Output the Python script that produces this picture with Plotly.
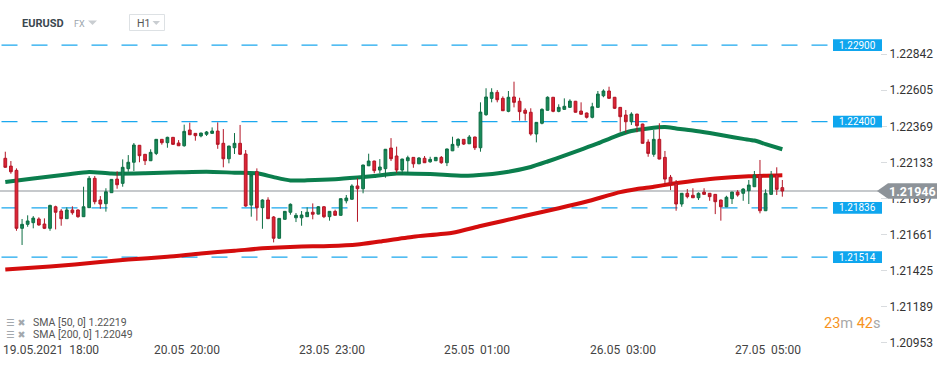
import plotly.graph_objects as go

# ---------------- data ----------------
candle_idx = list(range(1, 141))

open_ = [
    1.22160, 1.22109, 1.22081, 1.21702, 1.21728, 1.21739, 1.21763, 1.21730, 1.21702, 1.21843,
    1.21815, 1.21765, 1.21822, 1.21822, 1.21778, 1.21837, 1.22029, 1.21887, 1.21863, 1.21935,
    1.22024, 1.21996, 1.22092, 1.22134, 1.22245, 1.22186, 1.22144, 1.22192, 1.22284, 1.22262,
    1.22297, 1.22260, 1.22242, 1.22345, 1.22323, 1.22306, 1.22317, 1.22323, 1.22338, 1.22258,
    1.22157, 1.22229, 1.22258, 1.22188, 1.21854, 1.22072, 1.21837, 1.21887, 1.21776, 1.21637,
    1.21761, 1.21807, 1.21771, 1.21771, 1.21778, 1.21807, 1.21795, 1.21843, 1.21778, 1.21813,
    1.21787, 1.21882, 1.21892, 1.21979, 1.21961, 1.22111, 1.22142, 1.22083, 1.22092, 1.22227,
    1.22175, 1.22083, 1.22144, 1.22166, 1.22124, 1.22160, 1.22137, 1.22144, 1.22166, 1.22131,
    1.22209, 1.22245, 1.22284, 1.22255, 1.22299, 1.22229, 1.22445, 1.22552, 1.22591, 1.22552,
    1.22467, 1.22561, 1.22533, 1.22474, 1.22461, 1.22319, 1.22389, 1.22474, 1.22559, 1.22467,
    1.22480, 1.22493, 1.22533, 1.22469, 1.22456, 1.22428, 1.22493, 1.22569, 1.22600, 1.22559,
    1.22493, 1.22443, 1.22399, 1.22449, 1.22384, 1.22266, 1.22186, 1.22284, 1.22166, 1.22036,
    1.21996, 1.21861, 1.21931, 1.21918, 1.21902, 1.21939, 1.21931, 1.21924, 1.21887, 1.21843,
    1.21896, 1.21939, 1.21931, 1.21948, 1.21974, 1.22051, 1.21817, 1.21924, 1.22051, 1.21968,
]
high = [
    1.22203, 1.22142, 1.22094, 1.21763, 1.21787, 1.21782, 1.21774, 1.21767, 1.21856, 1.21850,
    1.21828, 1.21839, 1.21846, 1.21826, 1.21974, 1.22044, 1.22044, 1.21913, 1.21964, 1.22024,
    1.22075, 1.22153, 1.22181, 1.22260, 1.22247, 1.22188, 1.22219, 1.22286, 1.22286, 1.22301,
    1.22299, 1.22279, 1.22380, 1.22393, 1.22325, 1.22327, 1.22338, 1.22362, 1.22395, 1.22351,
    1.22242, 1.22325, 1.22378, 1.22214, 1.22053, 1.22094, 1.21892, 1.21905, 1.21782, 1.21769,
    1.21815, 1.21865, 1.21802, 1.21815, 1.21839, 1.21865, 1.21848, 1.21848, 1.21815, 1.21824,
    1.21898, 1.21920, 1.21990, 1.22029, 1.22118, 1.22190, 1.22144, 1.22155, 1.22221, 1.22292,
    1.22236, 1.22157, 1.22177, 1.22168, 1.22168, 1.22175, 1.22170, 1.22168, 1.22175, 1.22223,
    1.22301, 1.22291, 1.22286, 1.22312, 1.22301, 1.22526, 1.22618, 1.22618, 1.22606, 1.22565,
    1.22600, 1.22661, 1.22556, 1.22487, 1.22487, 1.22397, 1.22487, 1.22565, 1.22561, 1.22513,
    1.22552, 1.22546, 1.22535, 1.22526, 1.22459, 1.22523, 1.22600, 1.22611, 1.22628, 1.22561,
    1.22495, 1.22476, 1.22461, 1.22451, 1.22386, 1.22284, 1.22345, 1.22389, 1.22208, 1.22051,
    1.22018, 1.21933, 1.21959, 1.21964, 1.21937, 1.21964, 1.21933, 1.21926, 1.21889, 1.21915,
    1.21941, 1.21952, 1.21964, 1.22018, 1.22077, 1.22149, 1.21957, 1.22077, 1.22101, 1.22018,
]
low = [
    1.22098, 1.22059, 1.21686, 1.21593, 1.21712, 1.21702, 1.21719, 1.21697, 1.21686, 1.21695,
    1.21719, 1.21763, 1.21791, 1.21771, 1.21776, 1.21835, 1.21859, 1.21830, 1.21811, 1.21933,
    1.21961, 1.21974, 1.22072, 1.22077, 1.22134, 1.22116, 1.22142, 1.22181, 1.22249, 1.22229,
    1.22249, 1.22240, 1.22236, 1.22312, 1.22275, 1.22297, 1.22306, 1.22321, 1.22222, 1.22101,
    1.22127, 1.22188, 1.22184, 1.21843, 1.21778, 1.21752, 1.21699, 1.21763, 1.21610, 1.21635,
    1.21759, 1.21791, 1.21743, 1.21719, 1.21776, 1.21761, 1.21793, 1.21769, 1.21752, 1.21785,
    1.21785, 1.21865, 1.21890, 1.21745, 1.21931, 1.22109, 1.22062, 1.22062, 1.22033, 1.22142,
    1.22065, 1.22051, 1.22062, 1.22098, 1.22122, 1.22129, 1.22131, 1.22142, 1.22124, 1.22109,
    1.22207, 1.22229, 1.22247, 1.22253, 1.22214, 1.22203, 1.22438, 1.22526, 1.22526, 1.22469,
    1.22461, 1.22493, 1.22406, 1.22406, 1.22308, 1.22264, 1.22382, 1.22472, 1.22461, 1.22461,
    1.22478, 1.22491, 1.22459, 1.22446, 1.22420, 1.22421, 1.22491, 1.22559, 1.22550, 1.22482,
    1.22334, 1.22327, 1.22378, 1.22330, 1.22256, 1.22170, 1.22170, 1.22153, 1.21985, 1.21952,
    1.21817, 1.21843, 1.21898, 1.21900, 1.21887, 1.21922, 1.21882, 1.21795, 1.21752, 1.21841,
    1.21861, 1.21909, 1.21882, 1.21861, 1.21972, 1.21800, 1.21815, 1.21922, 1.21920, 1.21909,
]
close = [
    1.22101, 1.22072, 1.21702, 1.21728, 1.21750, 1.21769, 1.21724, 1.21702, 1.21852, 1.21807,
    1.21765, 1.21822, 1.21804, 1.21778, 1.21843, 1.22029, 1.21876, 1.21861, 1.21941, 1.22022,
    1.21987, 1.22101, 1.22134, 1.22247, 1.22177, 1.22144, 1.22199, 1.22284, 1.22262, 1.22297,
    1.22251, 1.22242, 1.22336, 1.22314, 1.22308, 1.22325, 1.22332, 1.22338, 1.22251, 1.22157,
    1.22240, 1.22258, 1.22186, 1.21848, 1.22051, 1.21837, 1.21887, 1.21765, 1.21637, 1.21767,
    1.21813, 1.21859, 1.21787, 1.21789, 1.21807, 1.21794, 1.21843, 1.21778, 1.21813, 1.21787,
    1.21896, 1.21900, 1.21979, 1.21961, 1.22116, 1.22142, 1.22079, 1.22103, 1.22219, 1.22157,
    1.22083, 1.22155, 1.22164, 1.22124, 1.22162, 1.22131, 1.22153, 1.22166, 1.22131, 1.22221,
    1.22251, 1.22284, 1.22253, 1.22299, 1.22229, 1.22462, 1.22561, 1.22591, 1.22543, 1.22471,
    1.22559, 1.22526, 1.22465, 1.22454, 1.22319, 1.22395, 1.22480, 1.22559, 1.22467, 1.22493,
    1.22500, 1.22534, 1.22461, 1.22448, 1.22428, 1.22497, 1.22580, 1.22600, 1.22552, 1.22487,
    1.22432, 1.22399, 1.22449, 1.22373, 1.22258, 1.22192, 1.22284, 1.22155, 1.22024, 1.21992,
    1.21861, 1.21931, 1.21909, 1.21902, 1.21931, 1.21924, 1.21909, 1.21876, 1.21843, 1.21905,
    1.21939, 1.21920, 1.21959, 1.21985, 1.22051, 1.21817, 1.21931, 1.22051, 1.21957, 1.21946,
]

sma50_idx = [1, 6, 12, 16, 20, 26, 32, 37, 42, 46, 49, 52, 55, 60, 64, 67, 71, 77, 83, 87,
             91, 95, 98, 101, 104, 107, 110, 113, 116, 119, 121, 124, 127, 130, 133, 135, 137, 140]
sma50 = [1.22005, 1.22028, 1.22054, 1.22071, 1.22060, 1.22062, 1.22068, 1.22072, 1.22066, 1.22062,
         1.22037, 1.22015, 1.22016, 1.22023, 1.22034, 1.22044, 1.22060, 1.22057, 1.22045, 1.22054,
         1.22072, 1.22103, 1.22139, 1.22178, 1.22217, 1.22257, 1.22302, 1.22338, 1.22355, 1.22364,
         1.22355, 1.22342, 1.22325, 1.22306, 1.22287, 1.22276, 1.22253, 1.22219]

sma200_idx = [1, 9, 18, 23, 30, 36, 42, 47, 53, 59, 64, 68, 74, 81, 86, 90, 94, 100, 105, 111,
              114, 117, 120, 123, 128, 134, 140]
sma200 = [1.21432, 1.21452, 1.21481, 1.21498, 1.21516, 1.21538, 1.21555, 1.21571, 1.21582, 1.21586,
          1.21596, 1.21616, 1.21647, 1.21673, 1.21717, 1.21750, 1.21784, 1.21833, 1.21877, 1.21939,
          1.21959, 1.21974, 1.21992, 1.22007, 1.22028, 1.22043, 1.22049]

levels = [1.22900, 1.22400, 1.21836, 1.21514]
last_price = 1.21946
y_ticks = [1.22842, 1.22605, 1.22369, 1.22133, 1.21897, 1.21661, 1.21425, 1.21189, 1.20953]
date_idx = [1, 27, 53, 79, 105, 131]
date_labels = ["19.05.2021  18:00", "20.05  20:00", "23.05  23:00",
               "25.05  01:00", "26.05  03:00", "27.05  05:00"]
legend_lines = ["SMA [50, 0] 1.22219", "SMA [200, 0] 1.22049"]

# ---------------- layout helpers ----------------
W, H = 950, 368
PLOT_W = 880
X_RANGE = [0.052, 157.47]
Y_RANGE = [1.207885, 1.231952]
FONT = "Roboto"


def px(x):
    return x / PLOT_W


def py(y):
    return 1 - y / H


fig = go.Figure()

fig.add_trace(go.Scatter(x=sma200_idx, y=sma200, mode="lines",
                         line=dict(color="#d40d0d", width=4, shape="spline", smoothing=0.6),
                         hoverinfo="skip", showlegend=False))
fig.add_trace(go.Scatter(x=sma50_idx, y=sma50, mode="lines",
                         line=dict(color="#0b7e4d", width=4, shape="spline", smoothing=0.6),
                         hoverinfo="skip", showlegend=False))

fig.add_trace(go.Candlestick(
    x=candle_idx, open=open_, high=high, low=low, close=close,
    xaxis="x2", yaxis="y2",
    increasing=dict(fillcolor="#188a59", line=dict(color="#0e6e44", width=1)),
    decreasing=dict(fillcolor="#dd2536", line=dict(color="#b31626", width=1)),
    whiskerwidth=0, hoverinfo="skip", showlegend=False))

shapes = []
for lv in levels:
    shapes.append(dict(type="line", xref="paper", yref="y", x0=px(1.5), x1=px(832),
                       y0=lv, y1=lv, layer="below",
                       line=dict(color="#1ba8ee", width=1.2, dash="16px,14px")))
shapes.append(dict(type="line", xref="paper", yref="y", x0=0, x1=px(878),
                   y0=last_price, y1=last_price, layer="below",
                   line=dict(color="#8d9399", width=1.2)))
for lv in levels:
    shapes.append(dict(type="rect", xref="paper", yref="y", x0=px(833), x1=px(882),
                       y0=lv - 0.00038, y1=lv + 0.00038, layer="above",
                       fillcolor="#0fa6ee", line=dict(width=0)))
hh = 0.00050
shapes.append(dict(type="path", xref="paper", yref="y", layer="above",
                   path=(f"M {px(877)},{last_price} L {px(888)},{last_price + hh} "
                         f"L {px(937)},{last_price + hh} L {px(937)},{last_price - hh} "
                         f"L {px(888)},{last_price - hh} Z"),
                   fillcolor="#8d9399", line=dict(width=0)))
shapes.append(dict(type="path", xref="paper", yref="paper", layer="above",
                   path=f"M {px(88)},{py(20.5)} L {px(97)},{py(20.5)} L {px(92.5)},{py(25)} Z",
                   fillcolor="#c9cdd1", line=dict(width=0)))
shapes.append(dict(type="rect", xref="paper", yref="paper", layer="above",
                   x0=px(129.5), x1=px(164.5), y0=py(14.5), y1=py(30.5),
                   fillcolor="white", line=dict(color="#dde1e4", width=1)))
shapes.append(dict(type="path", xref="paper", yref="paper", layer="above",
                   path=f"M {px(152.5)},{py(21)} L {px(160)},{py(21)} L {px(156.25)},{py(25)} Z",
                   fillcolor="#c9cdd1", line=dict(width=0)))

ann = []
for lv in levels:
    ann.append(dict(xref="paper", yref="y", x=px(857.5), y=lv, text=f"{lv:.5f}",
                    showarrow=False, xanchor="center", yanchor="middle",
                    font=dict(family=FONT, size=10, color="white")))
ann.append(dict(xref="paper", yref="y", x=px(912.5), y=last_price, text=f"<b>{last_price:.5f}</b>",
                showarrow=False, xanchor="center", yanchor="middle",
                font=dict(family=FONT, size=12.5, color="white")))
for i, (di, dl) in enumerate(zip(date_idx, date_labels)):
    ann.append(dict(xref="x", yref="paper", x=di, y=py(350), text=dl.replace(" ", "\u00a0"),
                    showarrow=False, xanchor="left", yanchor="middle",
                    xshift=-4 if i == 0 else 1,
                    font=dict(family=FONT, size=12, color="#444444")))
ann.append(dict(xref="paper", yref="paper", x=px(20), y=py(24), text="<b>EURUSD</b>",
                showarrow=False, xanchor="left", yanchor="middle",
                font=dict(family=FONT, size=11, color="#3b4850")))
ann.append(dict(xref="paper", yref="paper", x=px(71.5), y=py(24.5), text="FX",
                showarrow=False, xanchor="left", yanchor="middle",
                font=dict(family=FONT, size=9, color="#9ba5ac")))
ann.append(dict(xref="paper", yref="paper", x=px(134.5), y=py(23), text="H1",
                showarrow=False, xanchor="left", yanchor="middle",
                font=dict(family=FONT, size=10.5, color="#555555")))
for j, txt in enumerate(legend_lines):
    yy = 322.7 + 12 * j
    ann.append(dict(xref="paper", yref="paper", x=px(3.5), y=py(yy), text="☰\u00a0✖",
                    showarrow=False, xanchor="left", yanchor="middle",
                    font=dict(family="DejaVu Sans", size=9.5, color="#a3a8ad")))
    ann.append(dict(xref="paper", yref="paper", x=px(31), y=py(yy), text=txt,
                    showarrow=False, xanchor="left", yanchor="middle",
                    font=dict(family=FONT, size=10.5, color="#555555")))
ann.append(dict(xref="paper", yref="paper", x=px(882), y=py(323),
                text=("<span style='color:#f7941d'>23</span><span style='color:#a8a8a8'>m</span>"
                      "\u00a0<span style='color:#f7941d'>42</span><span style='color:#a8a8a8'>s</span>"),
                showarrow=False, xanchor="right", yanchor="middle",
                font=dict(family=FONT, size=14.5)))

fig.update_layout(
    width=W, height=H,
    margin=dict(l=0, r=W - PLOT_W, t=0, b=0, pad=0),
    paper_bgcolor="white", plot_bgcolor="white",
    font=dict(family=FONT),
    showlegend=False,
    boxgap=0.3,
    xaxis=dict(range=X_RANGE, visible=False, fixedrange=True),
    xaxis2=dict(range=X_RANGE, overlaying="x", visible=False,
                rangeslider=dict(visible=False), fixedrange=True),
    yaxis=dict(range=Y_RANGE, side="right", tickvals=y_ticks,
               ticktext=[f"{v:.5f}" for v in y_ticks],
               ticks="outside", ticklen=6, tickcolor="#d9dcdf", tickwidth=1,
               showgrid=False, zeroline=False, showline=False,
               tickfont=dict(family=FONT, size=12, color="#333333"), fixedrange=True),
    yaxis2=dict(range=Y_RANGE, overlaying="y", visible=False, fixedrange=True),
    shapes=shapes,
    annotations=ann,
)

fig.write_html("out.html", config={"displayModeBar": False},
               post_script="document.body.style.margin='0px';")
